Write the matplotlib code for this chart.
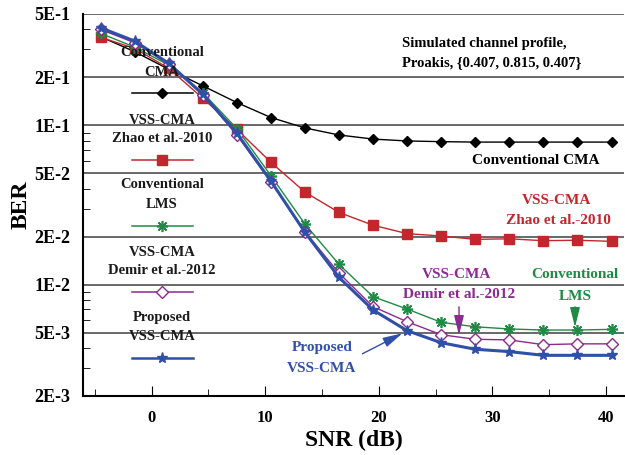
import numpy as np
import matplotlib
matplotlib.use('Agg')
import matplotlib.pyplot as plt
from matplotlib.ticker import FixedLocator, FixedFormatter, NullFormatter
from matplotlib.lines import Line2D

plt.rcParams['font.family'] = ['Liberation Serif', 'DejaVu Serif']
plt.rcParams['font.weight'] = 'bold'

#SNR points (dB)
snr = [-4.5, -1.5, 1.5, 4.5, 7.5, 10.5, 13.5, 16.5, 19.5, 22.5, 25.5, 28.5, 31.5, 34.5, 37.5, 40.5]

#BER curves
ber_cma = [0.36, 0.29, 0.225, 0.177, 0.139, 0.112, 0.0963, 0.087, 0.082, 0.0798, 0.079, 0.0785, 0.0785, 0.0785, 0.0785, 0.0785]
ber_zhao = [0.357, 0.304, 0.228, 0.148, 0.0944, 0.0586, 0.0381, 0.0284, 0.0236, 0.0209, 0.0202, 0.01925, 0.0194, 0.01888, 0.0190, 0.0187]
ber_lms = [0.378, 0.31, 0.239, 0.16, 0.0955, 0.0483, 0.024, 0.0134, 0.0084, 0.00703, 0.0058, 0.00544, 0.00527, 0.00519, 0.00519, 0.00524]
ber_demir = [0.40, 0.33, 0.242, 0.155, 0.087, 0.0442, 0.0215, 0.0118, 0.00727, 0.00585, 0.00485, 0.00454, 0.0045, 0.0042, 0.00425, 0.00425]
ber_prop = [0.41, 0.338, 0.245, 0.157, 0.0892, 0.0447, 0.0213, 0.0111, 0.00693, 0.00514, 0.00432, 0.00393, 0.0038, 0.0036, 0.0036, 0.0036]

#colors
c_cma = 'black'
c_zhao = '#C1272D'
c_lms = '#1E8B45'
c_demir = '#8B2A8F'
c_prop = '#3050A8'

fig = plt.figure(figsize=(6.25, 4.55), dpi=100)
ax = fig.add_axes([83/625, 1-396/455, (624-83)/625, (396-14)/455])

ax.plot(snr, ber_cma, color=c_cma, lw=1, marker='D', ms=5, zorder=3)
ax.plot(snr, ber_zhao, color=c_zhao, lw=1, marker='s', ms=7, zorder=3)
ax.plot(snr, ber_lms, color=c_lms, lw=1, marker=(8, 2, 0), ms=8, mew=1.2, zorder=3)
ax.plot(snr, ber_demir, color=c_demir, lw=1, marker='D', ms=6, mfc='white', mew=1, zorder=3)
ax.plot(snr, ber_prop, color=c_prop, lw=2.2, marker='*', ms=8, zorder=4)

ax.set_yscale('log')
ax.set_xlim(-6.05, 41.6)
ax.set_ylim(2e-3, 5e-1)

major_y = [2e-3, 5e-3, 1e-2, 2e-2, 5e-2, 1e-1, 2e-1, 5e-1]
major_lbl = ['2E-3', '5E-3', '1E-2', '2E-2', '5E-2', '1E-1', '2E-1', '5E-1']
minor_y = [3e-3, 4e-3, 6e-3, 7e-3, 8e-3, 9e-3, 3e-2, 4e-2, 6e-2, 7e-2, 8e-2, 9e-2, 3e-1, 4e-1]
ax.yaxis.set_major_locator(FixedLocator(major_y))
ax.yaxis.set_major_formatter(FixedFormatter(major_lbl))
ax.yaxis.set_minor_locator(FixedLocator(minor_y))
ax.yaxis.set_minor_formatter(NullFormatter())

ax.set_xticks([0, 10, 20, 30, 40])
ax.set_xticks([-5, 5, 15, 25, 35], minor=True)

ax.tick_params(axis='both', which='both', direction='in', labelsize=12)
ax.tick_params(axis='y', which='major', length=0, pad=9, labelsize=13)
ax.tick_params(axis='y', which='minor', length=5)
ax.tick_params(axis='x', which='major', length=7, pad=10)
ax.tick_params(axis='x', which='minor', length=5)
for lbl in ax.get_xticklabels() + ax.get_yticklabels():
    lbl.set_fontweight('bold')

ax.grid(True, which='major', axis='y', color='#404040', lw=1.1)
ax.spines['top'].set_visible(False)
ax.spines['right'].set_visible(False)
ax.spines['left'].set_linewidth(1.5)
ax.spines['bottom'].set_linewidth(1.5)

ax.set_xlabel('SNR (dB)', fontsize=17, fontweight='bold', labelpad=3)
ax.set_ylabel('BER', fontsize=17, fontweight='bold', labelpad=2)

#legend drawn by hand: text above sample line
def px(x, y):
    return ((x-83)/(624-83), (396-y)/(396-14))

legend_items = [
    (['Conventional', 'CMA'], 53, 72, 93, c_cma, dict(marker='D', ms=5)),
    (['VSS-CMA', 'Zhao et al.-2010'], 120, 138, 160, c_zhao, dict(marker='s', ms=7)),
    (['Conventional', 'LMS'], 185, 204, 226, c_lms, dict(marker=(8, 2, 0), ms=8, mew=1.2)),
    (['VSS-CMA', 'Demir et al.-2012'], 252, 271, 292, c_demir, dict(marker='D', ms=6, mfc='white')),
    (['Proposed', 'VSS-CMA'], 318, 337, 358, c_prop, dict(marker='*', ms=8)),
]
for lines, y1, y2, ys, col, mk in legend_items:
    for txt, yy in zip(lines, [y1, y2]):
        ax.text(*px(162, yy), txt, transform=ax.transAxes, ha='center', va='center',
                fontsize=10.5, fontweight='bold', color='#1a1a1a', zorder=5)
    xa, ya = px(132, ys)
    xb, _ = px(193, ys)
    ax.add_line(Line2D([xa, xb], [ya, ya], transform=ax.transAxes, color=col,
                       lw=1.8 if col == c_prop else 1.1, zorder=5))
    ax.add_line(Line2D([px(162, ys)[0]], [ya], transform=ax.transAxes, color=col,
                       lw=0, zorder=6, **mk))

#annotations
ax.text(*px(402, 43), 'Simulated channel profile,', transform=ax.transAxes,
        ha='left', va='center', fontsize=10.5, fontweight='bold')
ax.text(*px(402, 63), 'Proakis, {0.407, 0.815, 0.407}', transform=ax.transAxes,
        ha='left', va='center', fontsize=10.5, fontweight='bold')
ax.text(*px(536, 161), 'Conventional CMA', transform=ax.transAxes,
        ha='center', va='center', fontsize=11, fontweight='bold', color=c_cma)
ax.text(*px(557, 201), 'VSS-CMA', transform=ax.transAxes,
        ha='center', va='center', fontsize=11, fontweight='bold', color=c_zhao)
ax.text(*px(558, 221), 'Zhao et al.-2010', transform=ax.transAxes,
        ha='center', va='center', fontsize=11, fontweight='bold', color=c_zhao)
ax.text(*px(457, 274), 'VSS-CMA', transform=ax.transAxes,
        ha='center', va='center', fontsize=11, fontweight='bold', color=c_demir)
ax.text(*px(459, 294), 'Demir et al.-2012', transform=ax.transAxes,
        ha='center', va='center', fontsize=11, fontweight='bold', color=c_demir)
ax.text(*px(575, 275), 'Conventional', transform=ax.transAxes,
        ha='center', va='center', fontsize=11, fontweight='bold', color=c_lms)
ax.text(*px(575, 296), 'LMS', transform=ax.transAxes,
        ha='center', va='center', fontsize=11, fontweight='bold', color=c_lms)
ax.text(*px(322, 347), 'Proposed', transform=ax.transAxes,
        ha='center', va='center', fontsize=11, fontweight='bold', color=c_prop)
ax.text(*px(322, 368), 'VSS-CMA', transform=ax.transAxes,
        ha='center', va='center', fontsize=11, fontweight='bold', color=c_prop)

#arrows
arrow_kw = dict(arrowstyle='-|>,head_width=0.3,head_length=1.2', lw=1, mutation_scale=10)
ax.annotate('', xy=px(459, 338), xytext=px(459, 304), xycoords='axes fraction',
            textcoords='axes fraction', arrowprops=dict(color=c_demir, **arrow_kw))
ax.annotate('', xy=px(575, 330), xytext=px(575, 304), xycoords='axes fraction',
            textcoords='axes fraction', arrowprops=dict(color=c_lms, **arrow_kw))
ax.annotate('', xy=px(405, 332), xytext=px(360, 355), xycoords='axes fraction',
            textcoords='axes fraction', arrowprops=dict(color=c_prop, **arrow_kw))

plt.savefig('out.png', dpi=100)
plt.close()
